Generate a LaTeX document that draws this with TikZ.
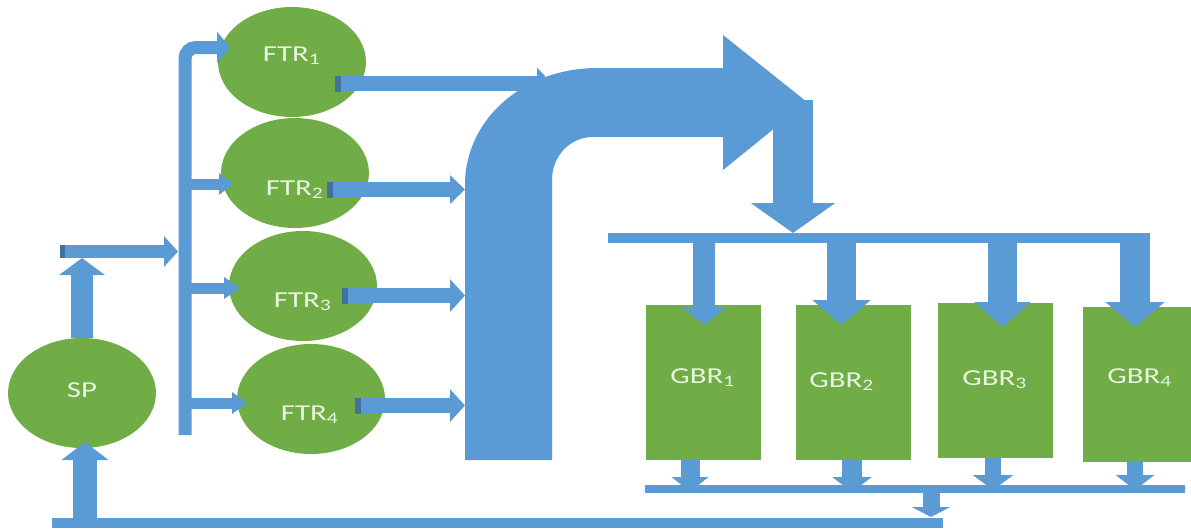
\documentclass[tikz,border=0pt]{standalone}
\usepackage{fontspec}
\setmainfont{Carlito}
\usepackage{tikz}
\usetikzlibrary{shapes.geometric, arrows.meta}
\definecolor{leaf}{HTML}{70AD47}
\definecolor{flow}{HTML}{5B9BD5}
\definecolor{flowdark}{HTML}{41719C}
\definecolor{paper}{HTML}{E8F4E0}
\newcommand{\wide}[1]{\scalebox{1.35}[1]{#1}}

\begin{document}
\begin{tikzpicture}[x=0.02cm, y=-0.02cm,
        tank/.style={ellipse, fill=leaf, minimum width=2.96cm, minimum height=2.2cm, inner sep=0pt},
        reactor/.style={rectangle, fill=leaf, minimum width=2.3cm, minimum height=3.1cm, inner sep=0pt},
        tag/.style={text=paper, font=\fontsize{13}{15}\selectfont, inner sep=0pt},
        pipe/.style={draw=flow, line width=#1},
        tail/.style={draw=flowdark, line width=#1},
        flowarrow/.style n args={3}{draw=flow, line width=#1, -{Triangle[length=#2, width=#3]}}]
        \path[use as bounding box, fill=white] (0,0) rectangle (1191,531);

        % tanks and reactors
        \node[tank] (SP) at (82,393) {};
        \node[tank] (FTR1) at (292,62) {};
        \node[tank] (FTR2) at (295,173) {};
        \node[tank] (FTR3) at (303,286) {};
        \node[tank] (FTR4) at (311,399) {};
        \node[reactor] (GBR1) at (703.5,382.5) {};
        \node[reactor] (GBR2) at (853.5,382.5) {};
        \node[reactor] (GBR3) at (995.5,380.5) {};
        \node[reactor] (GBR4) at (1140.5,384.5) {};

        % pipe points
        \coordinate (riser) at (82,258);
        \coordinate (feedL) at (60,251.5);
        \coordinate (feedR) at (178,251.5);
        \coordinate (busBot) at (185,435);
        \coordinate (busTop) at (185,47.5);
        \coordinate (ftrIn1) at (230,47.5);
        \coordinate (tee2) at (185,184);
        \coordinate (ftrIn2) at (233,184);
        \coordinate (tee3) at (190,288);
        \coordinate (ftrIn3) at (240,288);
        \coordinate (tee4) at (190,403);
        \coordinate (ftrIn4) at (247,403);
        \coordinate (ftrOut1) at (335,83.5);
        \coordinate (mix1) at (552,83.5);
        \coordinate (ftrOut2) at (327,189.5);
        \coordinate (mix2) at (465,189.5);
        \coordinate (ftrOut3) at (342,295.5);
        \coordinate (mix3) at (465,295.5);
        \coordinate (ftrOut4) at (355,405.5);
        \coordinate (mix4) at (465,405.5);
        \coordinate (drop) at (793,100);
        \coordinate (headIn) at (793,233);
        \coordinate (headL) at (608,237.5);
        \coordinate (headR) at (1150,237.5);
        \coordinate (tap1) at (704,237.5);
        \coordinate (gbrIn1) at (704,325);
        \coordinate (tap2) at (841.5,237.5);
        \coordinate (gbrIn2) at (841.5,325);
        \coordinate (tap3) at (1002.5,237.5);
        \coordinate (gbrIn3) at (1002.5,327);
        \coordinate (tap4) at (1135,237.5);
        \coordinate (gbrIn4) at (1135,327);
        \coordinate (gbrOut1) at (690,460);
        \coordinate (sink1) at (690,492);
        \coordinate (gbrOut2) at (852,460);
        \coordinate (sink2) at (852,492);
        \coordinate (gbrOut3) at (993,458);
        \coordinate (sink3) at (993,490);
        \coordinate (gbrOut4) at (1135,462);
        \coordinate (sink4) at (1135,490);
        \coordinate (collL) at (645,489);
        \coordinate (collR) at (1185,489);
        \coordinate (drain) at (931,492);
        \coordinate (retIn) at (931,517);
        \coordinate (retL) at (52,523);
        \coordinate (retR) at (943,523);
        \coordinate (retUp) at (85,523);
        \coordinate (spIn) at (85,442);

        % feed to the FTRs
        \draw[flowarrow={0.44cm}{0.34cm}{0.9cm}] (SP.north) -- (riser);
        \draw[flowarrow={0.26cm}{0.28cm}{0.6cm}] (feedL) -- (feedR);
        \draw[tail=0.26cm] (feedL) -- ++(5,0);
        \draw[flowarrow={0.26cm}{0.26cm}{0.62cm}, rounded corners=0.22cm] (busBot) -- (busTop) -- (ftrIn1);
        \draw[flowarrow={0.22cm}{0.28cm}{0.42cm}] (tee2) -- (ftrIn2);
        \draw[flowarrow={0.22cm}{0.32cm}{0.42cm}] (tee3) -- (ftrIn3);
        \draw[flowarrow={0.22cm}{0.3cm}{0.42cm}] (tee4) -- (ftrIn4);

        % FTR outlets
        \draw[flowarrow={0.3cm}{0.3cm}{0.62cm}] (ftrOut1) -- (mix1);
        \draw[flowarrow={0.3cm}{0.3cm}{0.56cm}] (ftrOut2) -- (mix2);
        \draw[flowarrow={0.3cm}{0.3cm}{0.64cm}] (ftrOut3) -- (mix3);
        \draw[flowarrow={0.3cm}{0.3cm}{0.64cm}] (ftrOut4) -- (mix4);
        \draw[tail=0.32cm] (ftrOut1) -- ++(6,0);
        \draw[tail=0.32cm] (ftrOut2) -- ++(6,0);
        \draw[tail=0.32cm] (ftrOut3) -- ++(6,0);
        \draw[tail=0.32cm] (ftrOut4) -- ++(6,0);

        % bent arrow
        \fill[flow] (465,460) -- (465,185) .. controls (465,118) and (525,68) .. (597,68)
            -- (723,68) -- (723,35) -- (807,102) -- (723,170) -- (723,137) -- (593,137)
            .. controls (570,137) and (552,156) .. (552,180) -- (552,460) -- cycle;
        \draw[flowarrow={0.8cm}{0.6cm}{1.66cm}] (drop) -- (headIn);

        % header and GBR inlets
        \draw[pipe=0.2cm] (headL) -- (headR);
        \draw[flowarrow={0.44cm}{0.36cm}{0.88cm}] (tap1) -- (gbrIn1);
        \draw[flowarrow={0.58cm}{0.5cm}{1.14cm}] (tap2) -- (gbrIn2);
        \draw[flowarrow={0.58cm}{0.5cm}{1.1cm}] (tap3) -- (gbrIn3);
        \draw[flowarrow={0.6cm}{0.5cm}{1.16cm}] (tap4) -- (gbrIn4);

        % collection and return
        \draw[pipe=0.16cm] (collL) -- (collR);
        \draw[flowarrow={0.38cm}{0.3cm}{0.72cm}] (gbrOut1) -- (sink1);
        \draw[flowarrow={0.4cm}{0.3cm}{0.78cm}] (gbrOut2) -- (sink2);
        \draw[flowarrow={0.32cm}{0.3cm}{0.8cm}] (gbrOut3) -- (sink3);
        \draw[flowarrow={0.32cm}{0.3cm}{0.76cm}] (gbrOut4) -- (sink4);
        \draw[flowarrow={0.34cm}{0.2cm}{0.76cm}] (drain) -- (retIn);
        \draw[pipe=0.2cm] (retL) -- (retR);
        \draw[flowarrow={0.48cm}{0.36cm}{0.92cm}] (retUp) -- (spIn);

        % labels
        \node[tag] (SP-t) at (82,390) {\wide{SP}};
        \node[tag] (FTR1-t) at (292,56) {\wide{FTR\textsubscript{1}}};
        \node[tag] (FTR2-t) at (295,190) {\wide{FTR\textsubscript{2}}};
        \node[tag] (FTR3-t) at (303,302) {\wide{FTR\textsubscript{3}}};
        \node[tag] (FTR4-t) at (310,415) {\wide{FTR\textsubscript{4}}};
        \node[tag] (GBR1-t) at (703,378) {\wide{GBR\textsubscript{1}}};
        \node[tag] (GBR2-t) at (842,382) {\wide{GBR\textsubscript{2}}};
        \node[tag] (GBR3-t) at (995,380) {\wide{GBR\textsubscript{3}}};
        \node[tag] (GBR4-t) at (1140,378) {\wide{GBR\textsubscript{4}}};
    \end{tikzpicture}
\end{document}
